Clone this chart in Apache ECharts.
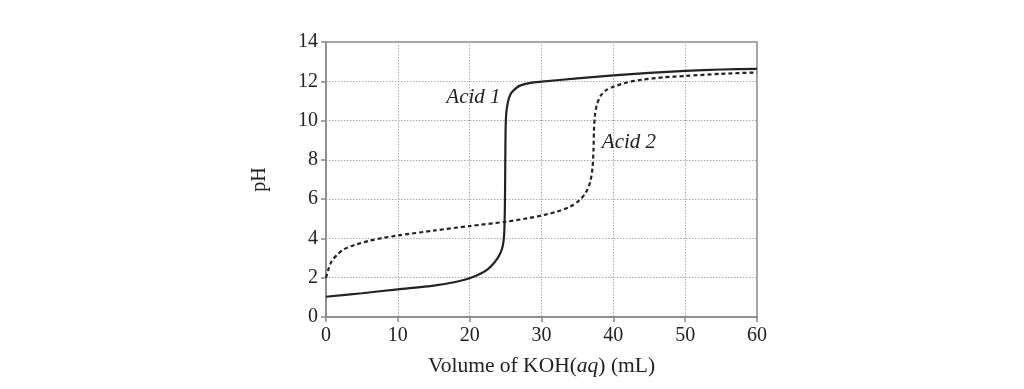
<!DOCTYPE html>
<html><head><meta charset="utf-8">
<script src="https://cdn.jsdelivr.net/npm/echarts@6/dist/echarts.min.js"></script>
<style>html,body{margin:0;padding:0;background:#fff}#c{width:1024px;height:389px}</style>
</head><body><div id="c"></div>
<script>
var xTicks = [0, 10, 20, 30, 40, 50, 60];
var yTicks = [0, 2, 4, 6, 8, 10, 12, 14];
var acid1 = [[0,1.03],[5,1.21],[10,1.41],[15,1.6],[18,1.78],[20,1.97],[21.5,2.2],[22.5,2.42],[23.5,2.8],[24.2,3.2],[24.6,3.6],[24.8,4.2],[24.9,5.5],[24.95,7.5],[25.0,9.5],[25.1,10.4],[25.3,10.9],[25.7,11.35],[26.3,11.6],[27,11.78],[28.5,11.92],[30,11.98],[35,12.15],[40,12.3],[45,12.43],[50,12.53],[55,12.6],[60,12.63]];
var acid2 = [[0,2.0],[0.4,2.5],[0.8,2.85],[1.5,3.15],[2.5,3.45],[4,3.67],[6,3.88],[8,4.03],[10,4.15],[15,4.4],[20,4.63],[25,4.85],[28,5.02],[30.3,5.19],[32,5.35],[34,5.62],[35.3,5.95],[36.2,6.35],[36.8,6.9],[37.1,7.6],[37.25,8.6],[37.3,9.5],[37.45,10.3],[37.7,10.8],[38.2,11.25],[39,11.55],[40,11.72],[42,11.95],[44,12.08],[47,12.2],[50,12.27],[55,12.38],[60,12.45]];
var seriesNames = ['Acid 1', 'Acid 2'];
var labelAnchors = [[24.3, 11.2], [38.4, 8.9]];

var serif = 'Liberation Serif';
var chart = echarts.init(document.getElementById('c'));
chart.setOption({
  animation: false,
  grid: {left: 326, right: 267, top: 42, bottom: 72, show: true, borderColor: '#888', borderWidth: 1.5},
  xAxis: {
    type: 'value', min: 0, max: 60, interval: 10,
    name: '{n|Volume of KOH(}{i|aq}{n|) (mL)}', nameLocation: 'middle', nameGap: 38,
    nameTextStyle: {rich: {n: {fontFamily: serif, fontSize: 21.5, color: '#222'}, i: {fontFamily: serif, fontSize: 21.5, fontStyle: 'italic', color: '#222'}}},
    axisLine: {show: true, lineStyle: {color: '#888', width: 1.5}},
    axisTick: {show: true, length: 5, lineStyle: {color: '#888', width: 1.5}},
    axisLabel: {fontFamily: serif, fontSize: 20, color: '#222', margin: 9, formatter: function(v){return xTicks.indexOf(v) >= 0 ? String(v) : '';}},
    splitLine: {show: true, lineStyle: {color: '#aaa', type: [1.5, 1.5], width: 1}}
  },
  yAxis: {
    type: 'value', min: 0, max: 14, interval: 2,
    name: 'pH', nameLocation: 'middle', nameGap: 56, nameRotate: 90,
    nameTextStyle: {fontFamily: serif, fontSize: 20, color: '#222'},
    axisLine: {show: true, lineStyle: {color: '#888', width: 1.5}},
    axisTick: {show: true, length: 5, lineStyle: {color: '#888', width: 1.5}},
    axisLabel: {fontFamily: serif, fontSize: 20, color: '#222', margin: 8, formatter: function(v){return yTicks.indexOf(v) >= 0 ? String(v) : '';}},
    splitLine: {show: true, lineStyle: {color: '#aaa', type: [1.5, 1.5], width: 1}}
  },
  series: [
    {name: seriesNames[0], type: 'line', data: acid1, showSymbol: false, smooth: 0.25,
     lineStyle: {color: '#222', width: 2.2}, z: 3},
    {name: seriesNames[1], type: 'line', data: acid2, showSymbol: false, smooth: 0.25,
     lineStyle: {color: '#222', width: 2.2, type: [4, 3]}, z: 3}
  ]
});
var p1 = chart.convertToPixel({gridIndex: 0}, labelAnchors[0]);
var p2 = chart.convertToPixel({gridIndex: 0}, labelAnchors[1]);
chart.setOption({graphic: [
  {type: 'text', x: p1[0], y: p1[1], z: 10, style: {text: seriesNames[0], font: 'italic 21px "Liberation Serif"', fill: '#222', align: 'right', verticalAlign: 'middle'}},
  {type: 'text', x: p2[0], y: p2[1], z: 10, style: {text: seriesNames[1], font: 'italic 21px "Liberation Serif"', fill: '#222', align: 'left', verticalAlign: 'middle'}}
]});
</script></body></html>
